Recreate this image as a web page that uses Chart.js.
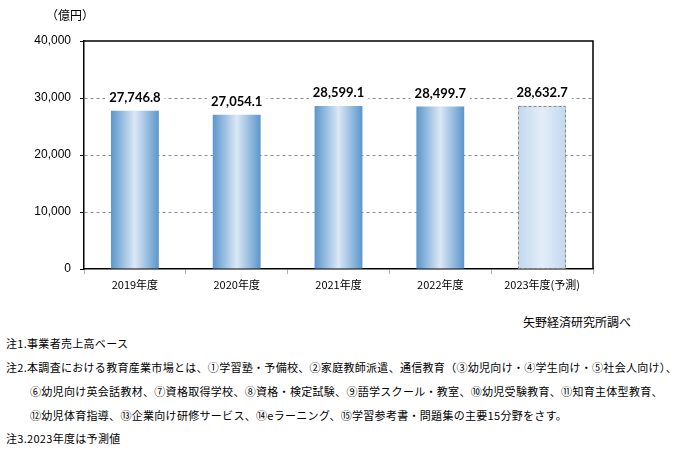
<!DOCTYPE html>
<html lang="ja">
<head>
    <meta charset="UTF-8">
    <title>教育産業市場規模推移</title>
    <script src="https://cdn.jsdelivr.net/npm/chart.js"></script>
    <style>
        body {
            margin: 0;
            background-color: #ffffff;
            font-family: "Noto Sans CJK JP", sans-serif;
            color: #000000;
        }
        #wrap {
            position: relative;
            width: 694px;
            height: 456px;
        }
        #marketChart {
            position: absolute;
            left: 0;
            top: 0;
        }
        .txt {
            position: absolute;
            white-space: nowrap;
            line-height: 16px;
            font-size: 11px;
            letter-spacing: 0.3px;
        }
    </style>
</head>
<body>
<div id="wrap">
    <canvas id="marketChart" width="694" height="300"></canvas>
    <div class="txt" style="left:46px; top:7px; font-size:12px; letter-spacing:0;">（億円）</div>
    <div class="txt" style="left:523px; top:314px; font-size:12px; letter-spacing:0;">矢野経済研究所調べ</div>
    <div class="txt" style="left:6px; top:335px;">注1.事業者売上高ベース</div>
    <div class="txt" style="left:6px; top:359px;">注2.本調査における教育産業市場とは、①学習塾・予備校、②家庭教師派遣、通信教育（③幼児向け・④学生向け・⑤社会人向け）、</div>
    <div class="txt" style="left:30px; top:383px;">⑥幼児向け英会話教材、⑦資格取得学校、⑧資格・検定試験、⑨語学スクール・教室、⑩幼児受験教育、⑪知育主体型教育、</div>
    <div class="txt" style="left:30px; top:407px;">⑫幼児体育指導、⑬企業向け研修サービス、⑭eラーニング、⑮学習参考書・問題集の主要15分野をさす。</div>
    <div class="txt" style="left:6px; top:430px;">注3.2023年度は予測値</div>
</div>

<script>
    // 市場規模（億円）
    const years = ['2019年度', '2020年度', '2021年度', '2022年度', '2023年度(予測)'];
    const marketSize = [27746.8, 27054.1, 28599.1, 28499.7, 28632.7];
    const isForecast = [false, false, false, false, true];
    const yTicks = [0, 10000, 20000, 30000, 40000];

    const fmt = v => v.toLocaleString('en-US', { minimumFractionDigits: 1, maximumFractionDigits: 1 });
    const barPct = 0.47;

    function barGradient(ctx) {
        const chart = ctx.chart;
        const x = chart.scales.x;
        if (!chart.chartArea || !x) return '#9dc3e6';
        const cx = x.getPixelForValue(ctx.dataIndex);
        const w = (x.width / years.length) * barPct;
        const g = chart.ctx.createLinearGradient(cx - w / 2, 0, cx + w / 2, 0);
        if (isForecast[ctx.dataIndex]) {
            g.addColorStop(0, '#c2d8ee');
            g.addColorStop(0.5, '#e3edf8');
            g.addColorStop(1, '#c2d8ee');
        } else {
            g.addColorStop(0, '#5b96cc');
            g.addColorStop(0.5, '#dbe8f5');
            g.addColorStop(1, '#5b96cc');
        }
        return g;
    }

    // 枠線（上・右）
    const frame = {
        id: 'frame',
        afterDraw(chart) {
            const { ctx, chartArea: a } = chart;
            ctx.save();
            ctx.strokeStyle = '#000';
            ctx.lineWidth = 1.5;
            ctx.beginPath();
            ctx.moveTo(a.left, a.top);
            ctx.lineTo(a.right, a.top);
            ctx.lineTo(a.right, a.bottom);
            ctx.stroke();
            ctx.restore();
        }
    };

    // 予測値の点線枠と数値ラベル
    const barLabels = {
        id: 'barLabels',
        afterDatasetsDraw(chart) {
            const ctx = chart.ctx;
            const meta = chart.getDatasetMeta(0);
            ctx.save();
            meta.data.forEach((bar, i) => {
                if (isForecast[i]) {
                    ctx.strokeStyle = '#8a8a8a';
                    ctx.lineWidth = 1;
                    ctx.setLineDash([3, 2]);
                    ctx.strokeRect(Math.round(bar.x - bar.width / 2) + 0.5, Math.round(bar.y) + 0.5,
                        Math.round(bar.width) - 1, Math.round(bar.base - bar.y) - 1);
                    ctx.setLineDash([]);
                }
                const text = fmt(marketSize[i]);
                ctx.font = 'bold 13px Lato';
                const tw = ctx.measureText(text).width;
                const ty = bar.y - 13;
                ctx.fillStyle = '#fff';
                ctx.fillRect(bar.x - tw / 2 - 4, ty - 9, tw + 8, 18);
                ctx.fillStyle = '#000';
                ctx.textAlign = 'center';
                ctx.textBaseline = 'middle';
                ctx.fillText(text, bar.x, ty);
            });
            ctx.restore();
        }
    };

    new Chart(document.getElementById('marketChart'), {
        type: 'bar',
        data: {
            labels: years,
            datasets: [{
                data: marketSize,
                backgroundColor: barGradient,
                borderWidth: 0,
                categoryPercentage: 1,
                barPercentage: barPct
            }]
        },
        options: {
            responsive: false,
            animation: false,
            devicePixelRatio: 1,
            layout: { padding: { top: 41, right: 101, left: 0, bottom: 0 } },
            plugins: {
                legend: { display: false },
                tooltip: { enabled: false }
            },
            scales: {
                x: {
                    afterFit: s => { s.height = 31; },
                    grid: {
                        offset: true,
                        drawOnChartArea: false,
                        drawTicks: true,
                        tickLength: 5,
                        tickColor: '#b0b0b0'
                    },
                    border: { color: '#000', width: 1.5 },
                    ticks: {
                        color: '#000',
                        padding: 4,
                        font: { family: '"Noto Sans CJK JP"', size: 11 }
                    }
                },
                y: {
                    min: 0,
                    max: 40000,
                    afterFit: s => { s.width = 84; },
                    afterBuildTicks: s => { s.ticks = yTicks.map(v => ({ value: v })); },
                    grid: {
                        color: c => (c.tick && (c.tick.value === 0 || c.tick.value === 40000)) ? 'rgba(0,0,0,0)' : '#8c8c8c',
                        tickColor: '#000',
                        tickLength: 4,
                        lineWidth: 1
                    },
                    border: { color: '#000', width: 1.5, dash: [3, 3] },
                    ticks: {
                        color: '#000',
                        padding: 9,
                        font: { family: '"Liberation Sans"', size: 12 },
                        callback: v => v.toLocaleString('en-US')
                    }
                }
            }
        },
        plugins: [frame, barLabels]
    });
</script>
</body>
</html>
